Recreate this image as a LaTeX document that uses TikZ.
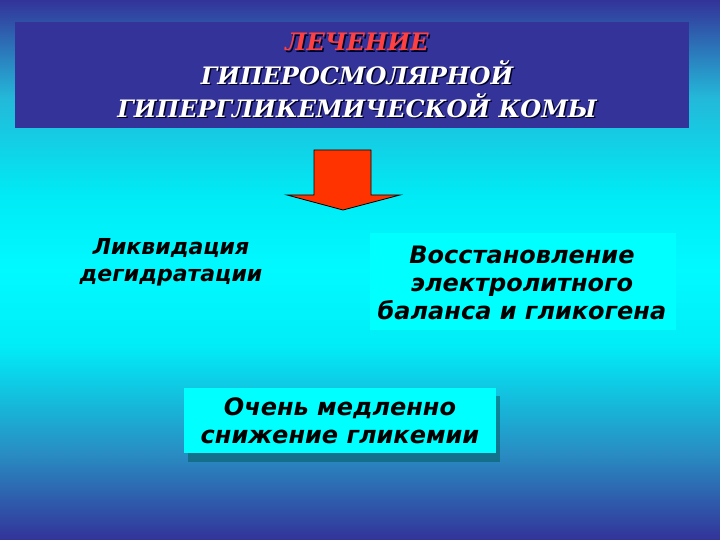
\documentclass[tikz,border=0pt]{standalone}
\usepackage{fontspec}
\setmainfont{DejaVu Serif}
\newfontfamily\bodyfont{DejaVu Sans}
\usetikzlibrary{positioning}

\definecolor{slideblue}{RGB}{51,51,153}
\definecolor{slidecyan}{RGB}{0,255,255}
\definecolor{arrowred}{RGB}{255,51,0}
\definecolor{titlered}{RGB}{255,64,64}

\pgfdeclareverticalshading{slidebg}{100bp}{rgb(0bp)=(.2,.2,.6); rgb(25bp)=(.2,.2,.6); rgb(33bp)=(.16,.55,.76); rgb(43bp)=(0,.93,.97); rgb(50bp)=(0,.98,1); rgb(57bp)=(0,.92,.96); rgb(66bp)=(.14,.72,.85); rgb(75bp)=(.2,.2,.6); rgb(100bp)=(.2,.2,.6)}

\tikzset{
  titletext/.style={align=center, font=\fontsize{24}{33}\selectfont\bfseries\itshape},
  bodytext/.style={align=center, text=black, font=\bodyfont\fontsize{24}{28}\selectfont\bfseries\itshape},
}

\begin{document}
\begin{tikzpicture}[x=1pt, y=-1pt]

\shade [shading=slidebg] (0,0) rectangle (720,540);
\useasboundingbox (0,0) rectangle (720,540);

% title
\fill [slideblue] (15,22) rectangle (689,128);
\node [titletext, text=black!85!blue] at (358.5,43.5) {ЛЕЧЕНИЕ};
\node [titletext, text=titlered] (title1) at (357,42) {ЛЕЧЕНИЕ};
\node [titletext, text=black!85!blue] at (358.5,90.5) {ГИПЕРОСМОЛЯРНОЙ\\ГИПЕРГЛИКЕМИЧЕСКОЙ КОМЫ};
\node [titletext, text=white] (title2) at (357,89) {ГИПЕРОСМОЛЯРНОЙ\\ГИПЕРГЛИКЕМИЧЕСКОЙ КОМЫ};

% arrow
\draw [fill=arrowred, line width=.8pt] (314,150) -- (371,150) -- (371,195) -- (400,195)
  -- (343,210) -- (287,195) -- (314,195) -- cycle;

% steps
\node [bodytext, font=\bodyfont\fontsize{22}{27}\selectfont\bfseries\itshape] (dehydr) at (171,262) {Ликвидация\\дегидратации};
\fill [slidecyan] (370,233) rectangle (676,330);
\node [bodytext] (electro) at (522,283) {Восстановление\\электролитного\\баланса и гликогена};

\fill [black!30!teal, opacity=.5] (188,396) rectangle (500,462);
\fill [slidecyan] (184,388) rectangle (496,453);
\node [bodytext] (glyc) at (340,421) {Очень медленно\\снижение гликемии};

\end{tikzpicture}
\end{document}
